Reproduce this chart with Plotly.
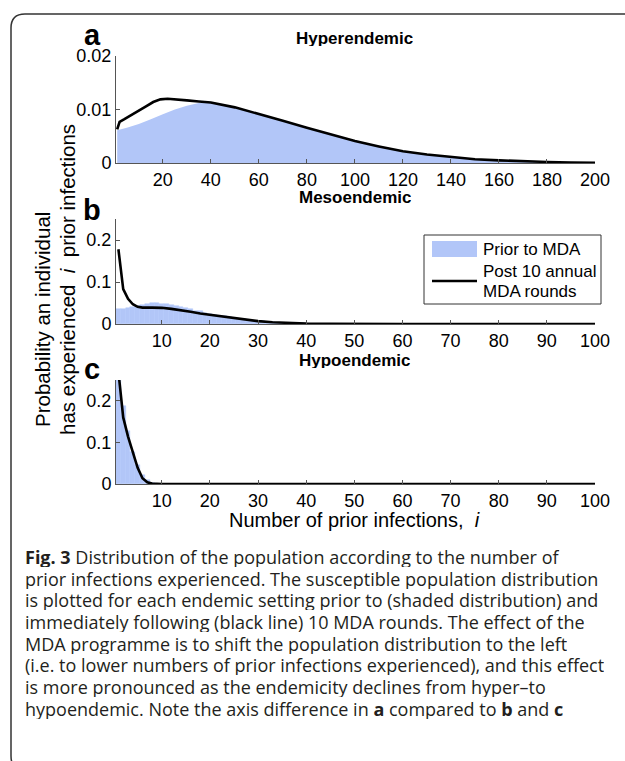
import plotly.graph_objects as go

# ---------------- data ----------------
# Panel a: Hyperendemic
hyper_prior_x = [1, 5, 10, 15, 20, 25, 30, 35, 40, 50, 60, 70, 80, 90, 100,
                 110, 120, 130, 140, 150, 160, 170, 180, 190, 200]
hyper_prior_y = [0.0061, 0.0066, 0.0073, 0.0082, 0.0091, 0.0100, 0.0107, 0.0112,
                 0.0113, 0.0104, 0.0092, 0.0079, 0.0066, 0.0053, 0.0041,
                 0.0031, 0.0022, 0.0016, 0.0011, 0.0007, 0.0005, 0.0003,
                 0.0002, 0.0001, 0.00005]
hyper_post_x = [1, 2, 4, 6, 8, 10, 13, 16, 19, 22, 26, 30, 35, 40, 50, 60, 70,
                80, 90, 100, 110, 120, 130, 140, 150, 160, 170, 180, 190, 200]
hyper_post_y = [0.0063, 0.0077, 0.0082, 0.0087, 0.0092, 0.0098, 0.0106, 0.0114,
                0.0119, 0.0120, 0.0119, 0.0117, 0.0115, 0.0113, 0.0104, 0.0092,
                0.0079, 0.0066, 0.0053, 0.0041, 0.0031, 0.0022, 0.0016, 0.0011,
                0.0007, 0.0005, 0.0003, 0.0002, 0.0001, 0.00005]

# Panel b: Mesoendemic
meso_x = list(range(1, 46))
meso_prior = [0.035, 0.036, 0.038, 0.041, 0.044, 0.046, 0.048, 0.049, 0.049, 0.048,
              0.047, 0.045, 0.043, 0.040, 0.037, 0.035, 0.032, 0.030, 0.027, 0.024,
              0.022, 0.020, 0.018, 0.016, 0.014, 0.012, 0.011, 0.0095, 0.008, 0.007,
              0.006, 0.005, 0.0042, 0.0035, 0.003, 0.0025, 0.002, 0.0016, 0.0013, 0.001,
              0.0008, 0.0006, 0.0005, 0.0004, 0.0003]
meso_post_x = [1, 2, 3, 4, 5, 6, 8, 10, 12, 14, 16, 18, 20, 22, 24, 26, 28, 30,
               33, 36, 40, 45, 50, 60, 100]
meso_post_y = [0.178, 0.083, 0.060, 0.047, 0.041, 0.039, 0.039, 0.0385, 0.036,
               0.033, 0.029, 0.025, 0.022, 0.018, 0.015, 0.012, 0.009, 0.0068,
               0.0042, 0.0025, 0.0011, 0.0004, 0.0001, 0.0, 0.0]

# Panel c: Hypoendemic
hypo_x = list(range(1, 11))
hypo_prior = [0.27, 0.187, 0.128, 0.078, 0.045, 0.022, 0.009, 0.003, 0.001, 0.0003]
hypo_post_x = [1, 2, 3, 4, 5, 6, 7, 8, 9, 10, 12, 100]
hypo_post_y = [0.27, 0.16, 0.114, 0.075, 0.039, 0.014, 0.004, 0.001, 0.0003,
               0.0001, 0.0, 0.0]

# tick labels
a_xticks = [20, 40, 60, 80, 100, 120, 140, 160, 180, 200]
bc_xticks = [10, 20, 30, 40, 50, 60, 70, 80, 90, 100]
a_yticks = [0, 0.01, 0.02]
a_yticktext = ["0", "0.01", "0.02"]
bc_yticks = [0, 0.1, 0.2]
bc_yticktext = ["0", "0.1", "0.2"]

caption_lines = [
    "<b>Fig. 3</b> Distribution of the population according to the number of",
    "prior infections experienced. The susceptible population distribution",
    "is plotted for each endemic setting prior to (shaded distribution) and",
    "immediately following (black line) 10 MDA rounds. The effect of the",
    "MDA programme is to shift the population distribution to the left",
    "(i.e. to lower numbers of prior infections experienced), and this effect",
    "is more pronounced as the endemicity declines from hyper\u2013to",
    "hypoendemic. Note the axis difference in <b>a</b> compared to <b>b</b> and <b>c</b>",
]

# ---------------- styling / layout ----------------
W, H = 625, 761


def px(x):
    return x / W


def py(y):
    return 1 - y / H


BLUE = "rgb(178,198,248)"
LINE_W = 2.6
AX_FONT = dict(family="Liberation Sans, Arial, sans-serif", size=18, color="black")
AX_COLOR = "#555555"

X_DOM = [px(116), px(595)]
A_DOM = [py(163), py(56)]
B_DOM = [py(324), py(219)]
C_DOM = [py(484), py(380)]

fig = go.Figure()

fig.add_trace(go.Scatter(x=hyper_prior_x, y=hyper_prior_y, mode="none", fill="tozeroy",
                         fillcolor=BLUE, xaxis="x", yaxis="y", showlegend=False))
fig.add_trace(go.Scatter(x=hyper_post_x, y=hyper_post_y, mode="lines",
                         line=dict(color="black", width=LINE_W), xaxis="x", yaxis="y",
                         showlegend=False))

fig.add_trace(go.Bar(x=meso_x, y=meso_prior, width=1,
                     marker=dict(color=BLUE, line=dict(color=BLUE, width=0.5)),
                     xaxis="x2", yaxis="y2", showlegend=False))
fig.add_trace(go.Scatter(x=meso_post_x, y=meso_post_y, mode="lines",
                         line=dict(color="black", width=LINE_W), xaxis="x2", yaxis="y2",
                         showlegend=False))

fig.add_trace(go.Bar(x=hypo_x, y=hypo_prior, width=1,
                     marker=dict(color=BLUE, line=dict(color=BLUE, width=0.5)),
                     xaxis="x3", yaxis="y3", showlegend=False))
fig.add_trace(go.Scatter(x=hypo_post_x, y=hypo_post_y, mode="lines",
                         line=dict(color="black", width=LINE_W), xaxis="x3", yaxis="y3",
                         showlegend=False))


def xax(rng, ticks, anchor):
    return dict(domain=X_DOM, range=rng, tickvals=ticks, ticktext=[str(t) for t in ticks],
                ticks="inside", ticklen=4, tickcolor=AX_COLOR, showline=True,
                linecolor=AX_COLOR, linewidth=1, showgrid=False, zeroline=False,
                tickfont=AX_FONT, anchor=anchor, fixedrange=True, automargin=False)


def yax(dom, rng, vals, text, anchor):
    return dict(domain=dom, range=rng, tickvals=vals, ticktext=text,
                ticks="inside", ticklen=4, tickcolor=AX_COLOR, showline=True,
                linecolor=AX_COLOR, linewidth=1, showgrid=False, zeroline=False,
                tickfont=AX_FONT, anchor=anchor, fixedrange=True, automargin=False)


fig.update_layout(
    width=W, height=H, autosize=False,
    margin=dict(l=0, r=0, t=0, b=0, pad=0, autoexpand=False),
    paper_bgcolor="white", plot_bgcolor="white",
    barmode="overlay", bargap=0, showlegend=False,
    xaxis=xax([0.5, 200], a_xticks, "y"),
    yaxis=yax(A_DOM, [0, 0.02], a_yticks, a_yticktext, "x"),
    xaxis2=xax([0.5, 100], bc_xticks, "y2"),
    yaxis2=yax(B_DOM, [0, 0.25], bc_yticks, bc_yticktext, "x2"),
    xaxis3=xax([0.5, 100], bc_xticks, "y3"),
    yaxis3=yax(C_DOM, [0, 0.25], bc_yticks, bc_yticktext, "x3"),
)

ann = []


def note(text, x, y, size=17, xanchor="center", yanchor="middle", angle=0,
         family="Liberation Sans, Arial, sans-serif", color="black", height=None):
    d = dict(text=text, x=px(x), y=py(y), xref="paper", yref="paper",
             xanchor=xanchor, yanchor=yanchor, showarrow=False, textangle=angle,
             font=dict(family=family, size=size, color=color))
    if height is not None:
        d["height"] = height
    ann.append(d)


# panel titles and letters
note("<b>Hyperendemic</b>", 355, 38, height=16)
note("<b>Mesoendemic</b>", 355, 197, height=16)
note("<b>Hypoendemic</b>", 355, 360, height=16)
note("<b>a</b>", 92, 35, size=29, height=20)
note("<b>b</b>", 92, 210, size=29, height=24)
note("<b>c</b>", 92, 369, size=29, height=20)

# axis titles
note("Probability an individual", 43, 320, size=20.5, angle=-90)
note("has experienced\u00a0\u00a0<i>i</i>\u00a0\u00a0prior infections", 68, 280, size=20.5, angle=-90)
note("Number of prior infections,\u00a0\u00a0<i>i</i>", 355, 520, size=20)

# legend (panel b)
note("Prior to MDA", 481, 249, size=17, xanchor="left")
note("Post 10 annual", 481, 271, size=17, xanchor="left")
note("MDA rounds", 481, 291, size=17, xanchor="left")

# caption
cap_y = [557, 578.5, 600, 622, 643.5, 665, 687, 708.5]
for line, yy in zip(caption_lines, cap_y):
    note(line, 23, yy, size=18, xanchor="left", family="Open Sans, sans-serif",
         color="#231f20", height=20)

fig.update_layout(annotations=ann)

shapes = [
    # legend box and entries
    dict(type="rect", xref="paper", yref="paper", x0=px(424), x1=px(601), y0=py(304),
         y1=py(235), line=dict(color="#333333", width=1), fillcolor="white", layer="above"),
    dict(type="rect", xref="paper", yref="paper", x0=px(432), x1=px(477), y0=py(257),
         y1=py(241), line=dict(width=0), fillcolor=BLUE, layer="above"),
    dict(type="line", xref="paper", yref="paper", x0=px(432), x1=px(477), y0=py(281),
         y1=py(281), line=dict(color="black", width=LINE_W), layer="above"),
]
# rounded outer frame
r = 14
frame = (f"M {px(626)},{py(14)} L {px(11 + r)},{py(14)} "
         f"Q {px(11)},{py(14)} {px(11)},{py(14 + r)} "
         f"L {px(11)},{py(770 - r)} Q {px(11)},{py(770)} {px(11 + r)},{py(770)} "
         f"L {px(626)},{py(770)}")
shapes.append(dict(type="path", xref="paper", yref="paper", path=frame,
                   line=dict(color="#333333", width=1.5)))
fig.update_layout(shapes=shapes)

css = ("var s=document.createElement('style');"
       "s.textContent='html,body{margin:0;padding:0;overflow:hidden;}';"
       "document.head.appendChild(s);")
fig.write_html("out.html", config={"displayModeBar": False, "responsive": False},
               post_script=css)
